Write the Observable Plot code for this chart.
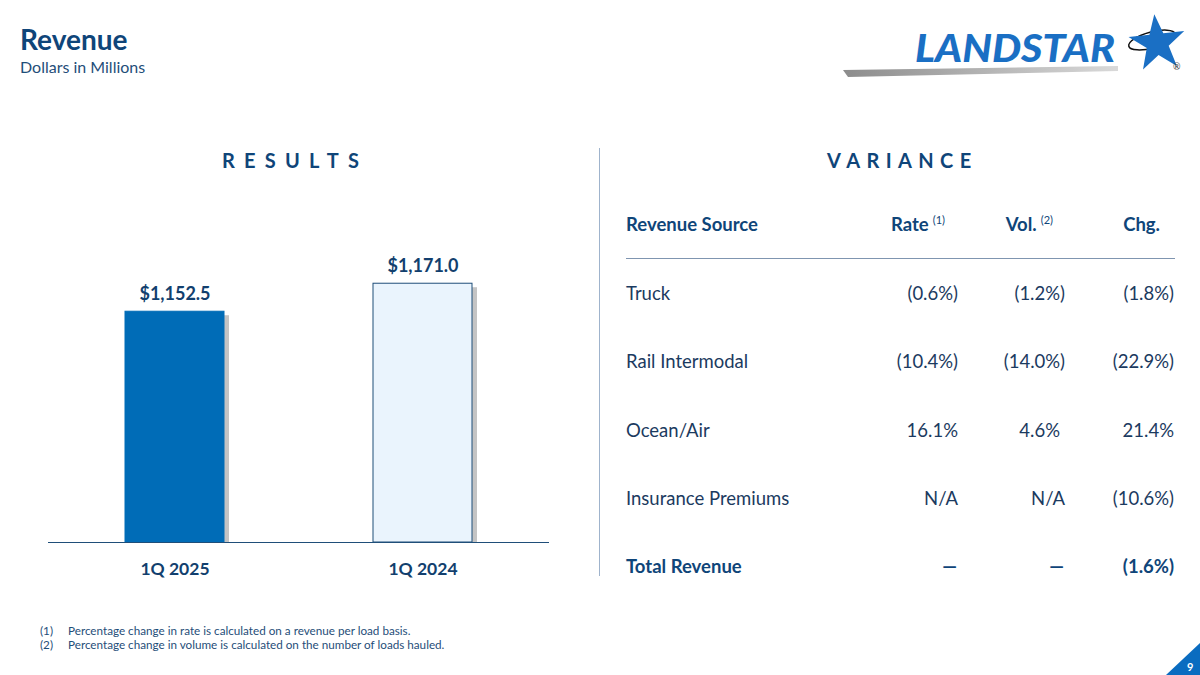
<!DOCTYPE html>
<html>
<head>
<meta charset="utf-8">
<script src="https://cdn.jsdelivr.net/npm/d3@7"></script>
<script src="https://cdn.jsdelivr.net/npm/@observablehq/plot@0.6"></script>
<style>
  html, body { margin: 0; padding: 0; background: #fff; }
  body { width: 1200px; height: 675px; position: relative; overflow: hidden; font-family: Lato, "Open Sans", sans-serif; color: #1b3a60; }
  .abs { position: absolute; white-space: nowrap; }
  #title { left: 20px; top: 22px; font-size: 28px; font-weight: 700; color: #0f4579; }
  #subtitle { left: 20px; top: 57px; font-size: 16px; color: #1f4e79; }
  .section { font-size: 20px; font-weight: 700; color: #0f4579; }
  #divider { left: 599px; top: 148px; width: 1px; height: 428px; background: #9fb3cc; }
  .cell { font-size: 18.5px; line-height: 24px; }
  .hdr { font-weight: 700; color: #0f4579; }
  sup { font-size: 11px; font-weight: 400; vertical-align: 0; position: relative; top: -7px; margin-left: 4px; }
  #hline { left: 626px; top: 258px; width: 549px; height: 1px; background: #7f95b0; }
  .foot { font-size: 11.7px; color: #1f4e79; line-height: 14px; }
  #chart { left: 0; top: 180px; }
</style>
</head>
<body>
<div id="title" class="abs">Revenue</div>
<div id="subtitle" class="abs">Dollars in Millions</div>

<svg class="abs" style="left:830px;top:0" width="370" height="90" viewBox="830 0 370 90">
  <defs>
    <linearGradient id="sw" x1="0" x2="1" y1="0" y2="0">
      <stop offset="0" stop-color="#8c8c8c"/>
      <stop offset="1" stop-color="#d9d9d9"/>
    </linearGradient>
    <filter id="blur" x="-20%" y="-20%" width="140%" height="140%"><feGaussianBlur stdDeviation="1.5"/></filter>
  </defs>
  <polygon points="843,70 1118,66 1118,71 848,77" fill="url(#sw)"/>
  <text x="915" y="62" font-family="Lato" font-weight="900" font-style="italic" font-size="37" fill="#1a6fc4" textLength="200" lengthAdjust="spacingAndGlyphs">LANDSTAR</text>
  <ellipse cx="1152" cy="40" rx="24" ry="8" fill="none" stroke="#111" stroke-width="1.5" transform="rotate(-15 1152 40)"/>
  <polygon fill="#1a6fc4" points="1157,14 1164,34 1185,34 1168,47 1174,68 1157,55 1140,68 1146,47 1129,34 1150,34" transform="rotate(-6 1157 40)"/>
  <text x="1173" y="70" font-family="Lato" font-size="9" fill="#333">®</text>
</svg>

<div class="abs section" style="left:222px;top:148px;letter-spacing:9.2px">RESULTS</div>
<div class="abs section" style="left:827px;top:148px;letter-spacing:6.4px">VARIANCE</div>
<div id="divider" class="abs"></div>
<div id="hline" class="abs"></div>

<div id="chart" class="abs"></div>
<div id="table"></div>

<div class="abs foot" style="left:40px;top:623px">(1)</div>
<div class="abs foot" style="left:68px;top:623px">Percentage change in rate is calculated on a revenue per load basis.</div>
<div class="abs foot" style="left:40px;top:637px">(2)</div>
<div class="abs foot" style="left:68px;top:637px">Percentage change in volume is calculated on the number of loads hauled.</div>

<svg class="abs" style="left:1160px;top:640px" width="40" height="35" viewBox="1160 640 40 35">
  <polygon points="1166,675 1200,643 1200,675" fill="#0a6cc0"/>
  <text x="1187" y="671" font-family="Lato" font-weight="700" font-size="11" fill="#fff">9</text>
</svg>

<script>
// ---- Data ----
const periods = ["1Q 2025", "1Q 2024"];
const revenue = [1152.5, 1171.0];
const valueLabels = ["$1,152.5", "$1,171.0"];

const headers = ["Revenue Source", "Rate", "Vol.", "Chg."];
const headerNotes = ["", "(1)", "(2)", ""];
const sources = ["Truck", "Rail Intermodal", "Ocean/Air", "Insurance Premiums", "Total Revenue"];
const rateChg = ["(0.6%)", "(10.4%)", "16.1%", "N/A", "—"];
const volChg = ["(1.2%)", "(14.0%)", "4.6%", "N/A", "—"];
const totalChg = ["(1.8%)", "(22.9%)", "21.4%", "(10.6%)", "(1.6%)"];

// ---- Bar chart ----
const bars = periods.map((p, i) => ({period: p, value: revenue[i], label: valueLabels[i], kind: i}));
const navy = "#123f6e";
const chart = Plot.plot({
  width: 560,
  height: 420,
  marginLeft: 48,
  marginRight: 11,
  marginTop: 20,
  marginBottom: 58,
  style: {fontFamily: "Lato, 'Open Sans', sans-serif", background: "transparent"},
  x: {domain: periods, paddingInner: 0.6, paddingOuter: 0.31, label: null},
  y: {domain: [1000, 1226], axis: null},
  marks: [
    Plot.rectY(bars, {x: "period", y1: 1000, y2: "value", dx: 5, dy: 4, fill: "#8a8a8a", fillOpacity: 0.5, clip: true}),
    Plot.rectY(bars, {x: "period", y1: 1000, y2: "value",
      fill: d => d.kind === 0 ? "#006cb7" : "#eaf4fd",
      stroke: d => d.kind === 0 ? "#006cb7" : "#1f4e79", strokeWidth: 1}),
    Plot.ruleY([1000], {stroke: "#1f4e79", strokeWidth: 1.2}),
    Plot.text(bars, {x: "period", y: "value", text: "label", dy: -17, fontSize: 18, fontWeight: 700, fill: navy}),
    Plot.axisX({tickSize: 0, tickPadding: 20, fontSize: 17.5, fontWeight: 700, fill: navy, label: null})
  ]
});
const xl = chart.querySelector('[aria-label="x-axis tick label"]');
if (xl) { xl.setAttribute("font-weight", "700"); xl.setAttribute("fill", navy); xl.setAttribute("font-size", "17.5"); }
document.getElementById("chart").appendChild(chart);

// ---- Variance table ----
const tbl = document.getElementById("table");
function cell(html, top, cls, pos) {
  const d = document.createElement("div");
  d.className = "abs cell " + cls;
  d.style.top = top + "px";
  Object.assign(d.style, pos);
  d.innerHTML = html;
  tbl.appendChild(d);
}
const hdrTop = 224 - 12;
const hdrPos = [{left: "626px"}, {right: "255px"}, {right: "147px"}, {right: "40px"}];
headers.forEach((h, i) => cell(h + (headerNotes[i] ? "<sup>" + headerNotes[i] + "</sup>" : ""), hdrTop, "hdr", hdrPos[i]));

const rowY = [293, 361, 430, 498, 566];
sources.forEach((s, i) => {
  const top = rowY[i] - 12;
  const bold = i === sources.length - 1 ? "hdr" : "";
  cell(s, top, bold, {left: "626px"});
  const isDash = rateChg[i] === "—";
  cell(rateChg[i], top, bold, isDash ? {right: "243px"} : {right: "242px"});
  cell(volChg[i], top, bold, isDash ? {right: "136px"} : {right: volChg[i] === "4.6%" ? "140px" : "135px"});
  cell(totalChg[i], top, bold, {right: "26px"});
});
</script>
</body>
</html>
